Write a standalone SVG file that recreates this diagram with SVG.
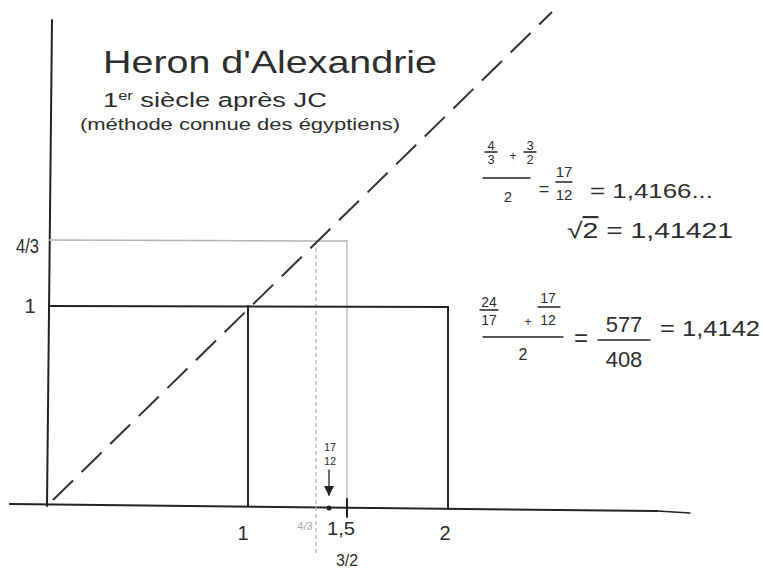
<svg xmlns="http://www.w3.org/2000/svg" width="763" height="569" viewBox="0 0 763 569">
<style>
  .ink { stroke:#222; stroke-width:2; fill:none; stroke-linecap:round; }
  .thin { stroke:#222; stroke-width:1.3; fill:none; stroke-linecap:round; }
  .grey { stroke:#b4b4b4; stroke-width:1.3; fill:none; }
  .dash { stroke:#333; stroke-width:2; fill:none; stroke-dasharray:28 12; }
  text { font-family:"Liberation Sans", Arial, sans-serif; fill:#2e2e2e; }
  .c { text-anchor:middle; }
  .lg { fill:#a8a8a8; }
</style>
<defs>
  <marker id="arr" viewBox="0 0 10 10" refX="9" refY="5" markerWidth="8" markerHeight="8" orient="auto">
    <path d="M0,0 L10,5 L0,10 z" fill="#222"/>
  </marker>
</defs>
<rect width="763" height="569" fill="#fff"/>

<g id="axes">
  <path class="ink" d="M52,20 L47,506"/>
  <path class="ink" d="M10,504 L657,511"/>
  <path class="thin" d="M657,511 L690,513"/>
</g>

<g id="guides">
  <path class="grey" d="M49,240 L318,241"/>
  <path class="grey" d="M318,241 L347,241 L347,500"/>
  <path class="grey" d="M316,241 L316,553" stroke-dasharray="4 3"/>
</g>

<g id="rectangle">
  <path class="ink" d="M49,306 L448,307 L448,509"/>
  <path class="ink" d="M248,306 L248,506"/>
  <path class="ink" d="M347,499 L347,517"/>
</g>

<g id="connectors">
  <path class="dash" d="M53,500 L552,12"/>
  <path class="thin" d="M329,470 L329,495" marker-end="url(#arr)"/>
  <circle cx="329" cy="508" r="2.5" fill="#222"/>
</g>

<g id="title">
  <text x="103" y="73" font-size="32" textLength="334" lengthAdjust="spacingAndGlyphs">Heron d'Alexandrie</text>
  <text x="103" y="107" font-size="20" textLength="224" lengthAdjust="spacingAndGlyphs">1<tspan font-size="12" baseline-shift="super">er</tspan> siècle après JC</text>
  <text x="80" y="130" font-size="16" textLength="320" lengthAdjust="spacingAndGlyphs">(méthode connue des égyptiens)</text>
</g>

<g id="formula1">
  <text class="c" x="491" y="150" font-size="13">4</text>
  <path class="thin" d="M485,152 L497,152"/>
  <text class="c" x="491" y="164" font-size="13">3</text>
  <text class="c" x="513" y="160" font-size="12">+</text>
  <text class="c" x="530" y="150" font-size="13">3</text>
  <path class="thin" d="M524,152 L536,152"/>
  <text class="c" x="530" y="164" font-size="13">2</text>
  <path class="thin" d="M483,178 L530,178"/>
  <text class="c" x="508" y="202" font-size="15">2</text>
  <text class="c" x="544" y="195" font-size="18">=</text>
  <text class="c" x="564" y="177" font-size="15">17</text>
  <path class="thin" d="M556,182 L572,182"/>
  <text class="c" x="564" y="200" font-size="15">12</text>
  <text x="590" y="198" font-size="20" textLength="123" lengthAdjust="spacingAndGlyphs">= 1,4166...</text>
</g>

<g id="sqrt2">
  <text x="567" y="238" font-size="22" textLength="166" lengthAdjust="spacingAndGlyphs">√<tspan text-decoration="overline">2</tspan> = 1,41421</text>
</g>

<g id="formula2">
  <text class="c" x="489" y="307" font-size="14">24</text>
  <path class="thin" d="M480,310 L498,310"/>
  <text class="c" x="489" y="325" font-size="14">17</text>
  <text class="c" x="528" y="326" font-size="12">+</text>
  <text class="c" x="548" y="303" font-size="14">17</text>
  <path class="thin" d="M538,307 L560,307"/>
  <text class="c" x="548" y="325" font-size="14">12</text>
  <path class="thin" d="M483,337 L563,337"/>
  <text class="c" x="523" y="360" font-size="16">2</text>
  <text class="c" x="581" y="346" font-size="24">=</text>
  <text class="c" x="624" y="332" font-size="22">577</text>
  <path class="thin" d="M598,340 L650,340"/>
  <text class="c" x="624" y="367" font-size="22">408</text>
  <text x="660" y="336" font-size="22" textLength="100" lengthAdjust="spacingAndGlyphs">= 1,4142</text>
</g>

<g id="y-labels">
  <text x="16" y="253" font-size="20" textLength="23" lengthAdjust="spacingAndGlyphs">4/3</text>
  <text class="c" x="30" y="313" font-size="20">1</text>
</g>

<g id="x-labels">
  <text class="c" x="243" y="540" font-size="20">1</text>
  <text class="c lg" x="305" y="530" font-size="11">4/3</text>
  <text x="327" y="535" font-size="18" textLength="28" lengthAdjust="spacingAndGlyphs">1,5</text>
  <text class="c" x="347" y="566" font-size="16">3/2</text>
  <text class="c" x="445" y="540" font-size="20">2</text>
  <text class="c" x="330" y="451" font-size="11">17</text>
  <text class="c" x="330" y="465" font-size="11">12</text>
</g>
</svg>
